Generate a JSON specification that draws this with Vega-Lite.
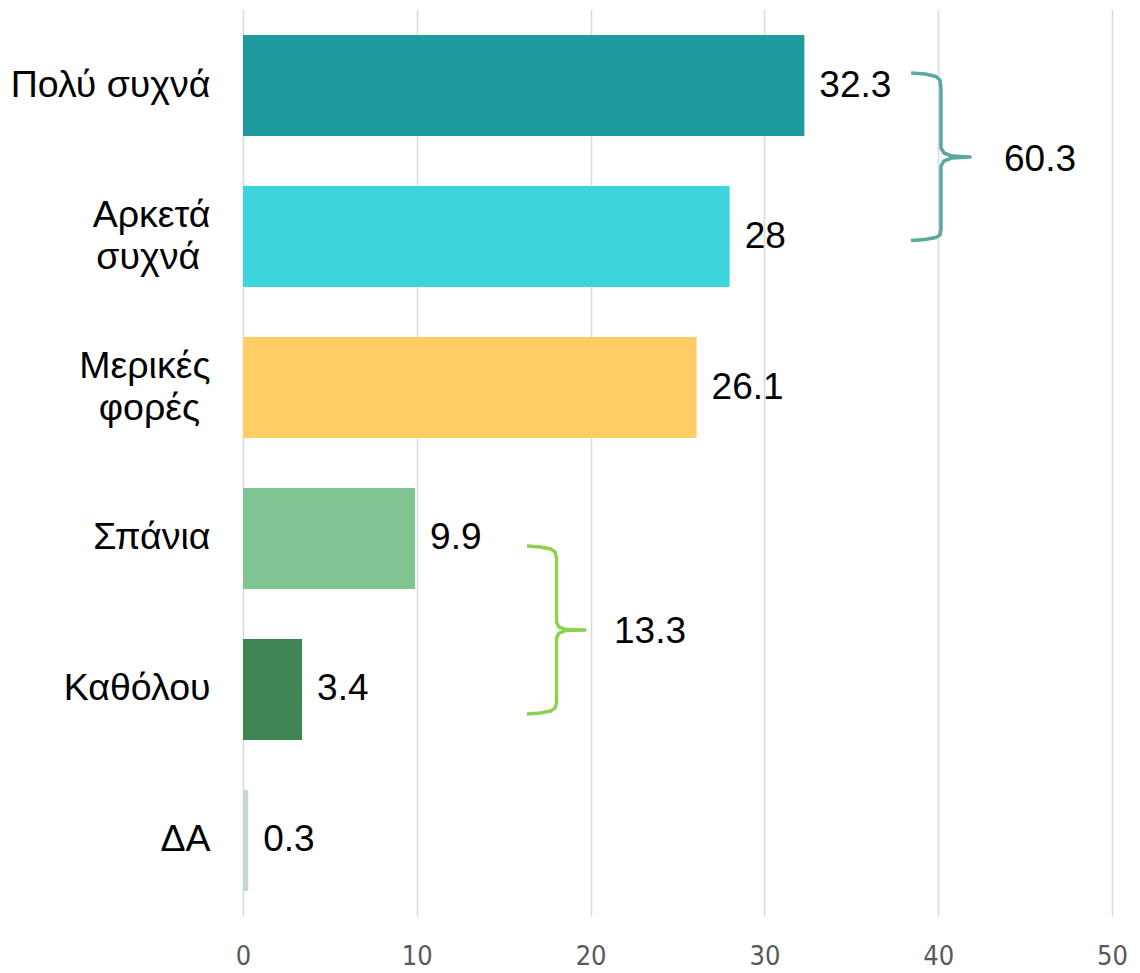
{
  "$schema": "https://vega.github.io/schema/vega-lite/v6.json",
  "autosize": {"type": "none"},
  "padding": {"left": 243, "top": 10, "right": 28, "bottom": 57},
  "width": 869,
  "height": 906,
  "background": "white",
  "config": {"view": {"stroke": null}, "font": "Liberation Sans"},
  "datasets": {
    "bars": [
      {"cat": "Πολύ συχνά", "value": 32.3, "label": "32.3"},
      {"cat": "Αρκετά συχνά", "value": 28, "label": "28"},
      {"cat": "Μερικές φορές", "value": 26.1, "label": "26.1"},
      {"cat": "Σπάνια", "value": 9.9, "label": "9.9"},
      {"cat": "Καθόλου", "value": 3.4, "label": "3.4"},
      {"cat": "ΔΑ", "value": 0.3, "label": "0.3"}
    ],
    "braces": [
      {"g": "high", "i": 0, "x": 38.44, "y": -0.083},
      {"g": "high", "i": 1, "x": 39.24, "y": -0.076},
      {"g": "high", "i": 2, "x": 39.87, "y": -0.060},
      {"g": "high", "i": 3, "x": 40.10, "y": -0.036},
      {"g": "high", "i": 4, "x": 40.16, "y": 0.017},
      {"g": "high", "i": 5, "x": 40.16, "y": 0.414},
      {"g": "high", "i": 6, "x": 40.33, "y": 0.447},
      {"g": "high", "i": 7, "x": 40.79, "y": 0.467},
      {"g": "high", "i": 8, "x": 41.83, "y": 0.474},
      {"g": "high", "i": 9, "x": 40.79, "y": 0.480},
      {"g": "high", "i": 10, "x": 40.33, "y": 0.500},
      {"g": "high", "i": 11, "x": 40.16, "y": 0.533},
      {"g": "high", "i": 12, "x": 40.16, "y": 0.957},
      {"g": "high", "i": 13, "x": 40.10, "y": 0.990},
      {"g": "high", "i": 14, "x": 39.87, "y": 1.007},
      {"g": "high", "i": 15, "x": 39.24, "y": 1.020},
      {"g": "high", "i": 16, "x": 38.44, "y": 1.026},
      {"g": "low", "i": 0, "x": 16.34, "y": 3.050},
      {"g": "low", "i": 1, "x": 17.09, "y": 3.056},
      {"g": "low", "i": 2, "x": 17.72, "y": 3.070},
      {"g": "low", "i": 3, "x": 17.95, "y": 3.089},
      {"g": "low", "i": 4, "x": 18.04, "y": 3.129},
      {"g": "low", "i": 5, "x": 18.04, "y": 3.553},
      {"g": "low", "i": 6, "x": 18.18, "y": 3.586},
      {"g": "low", "i": 7, "x": 18.58, "y": 3.603},
      {"g": "low", "i": 8, "x": 19.68, "y": 3.606},
      {"g": "low", "i": 9, "x": 18.58, "y": 3.609},
      {"g": "low", "i": 10, "x": 18.18, "y": 3.626},
      {"g": "low", "i": 11, "x": 18.04, "y": 3.659},
      {"g": "low", "i": 12, "x": 18.04, "y": 4.089},
      {"g": "low", "i": 13, "x": 17.95, "y": 4.123},
      {"g": "low", "i": 14, "x": 17.72, "y": 4.142},
      {"g": "low", "i": 15, "x": 17.09, "y": 4.156},
      {"g": "low", "i": 16, "x": 16.34, "y": 4.162}
    ],
    "sums": [
      {"g": "high", "x": 45.86, "y": 0.493, "label": "60.3"},
      {"g": "low", "x": 23.42, "y": 3.62, "label": "13.3"}
    ]
  },
  "resolve": {"scale": {"y": "independent"}, "axis": {"y": "independent"}},
  "layer": [
    {
      "data": {"name": "bars"},
      "encoding": {
        "y": {
          "field": "cat", "type": "nominal", "sort": null,
          "scale": {"paddingInner": 0.331, "paddingOuter": 0.166},
          "axis": {
            "title": null, "ticks": false, "domain": false, "grid": false,
            "labelFontSize": 37.5, "labelColor": "#000000", "labelFont": "Liberation Sans",
            "labelPadding": 33, "labelLineHeight": 42, "labelLimit": 400,
            "labelOffset": {"condition": {"test": "datum.value == 'Αρκετά συχνά' || datum.value == 'Μερικές φορές'", "value": -21}, "value": 0},
            "labelExpr": "datum.value == 'Αρκετά συχνά' ? ['Αρκετά', 'συχνά\u00a0\u200b'] : datum.value == 'Μερικές φορές' ? ['Μερικές', 'φορές\u00a0\u200b'] : datum.value"
          }
        },
        "x": {
          "field": "value", "type": "quantitative",
          "scale": {"domain": [0, 50], "nice": false, "zero": true},
          "axis": {
            "title": null, "values": [0, 10, 20, 30, 40, 50], "ticks": false, "domain": false,
            "grid": true, "gridColor": "#d9d9d9", "gridWidth": 1.5,
            "labelFontSize": 27, "labelColor": "#595959", "labelFont": "DejaVu Sans Condensed",
            "labelPadding": 27, "labelFlush": false
          }
        }
      },
      "layer": [
        {
          "mark": {"type": "bar"},
          "encoding": {
            "color": {
              "field": "cat", "type": "nominal", "legend": null,
              "scale": {
                "domain": ["Πολύ συχνά", "Αρκετά συχνά", "Μερικές φορές", "Σπάνια", "Καθόλου", "ΔΑ"],
                "range": ["#1f9ba0", "#3dd4db", "#ffcc66", "#80c492", "#3e8553", "#c5d6cc"]
              }
            }
          }
        },
        {
          "mark": {"type": "text", "align": "left", "baseline": "middle", "dx": 15, "fontSize": 37, "font": "Liberation Sans", "color": "#000000"},
          "encoding": {"text": {"field": "label", "type": "nominal"}}
        }
      ]
    },
    {
      "encoding": {
        "x": {"field": "x", "type": "quantitative", "scale": {"domain": [0, 50], "nice": false, "zero": true}},
        "y": {"field": "y", "type": "quantitative", "scale": {"domain": [-0.5, 5.5], "reverse": true, "nice": false, "zero": false}, "axis": null}
      },
      "layer": [
        {
          "data": {"name": "braces"},
          "transform": [{"filter": "datum.g == 'high'"}],
          "mark": {"type": "line", "color": "#5ba8a1", "strokeWidth": 3.5, "interpolate": "linear", "strokeJoin": "round"},
          "encoding": {"order": {"field": "i", "type": "quantitative"}}
        },
        {
          "data": {"name": "braces"},
          "transform": [{"filter": "datum.g == 'low'"}],
          "mark": {"type": "line", "color": "#8ed14f", "strokeWidth": 3.5, "interpolate": "linear", "strokeJoin": "round"},
          "encoding": {"order": {"field": "i", "type": "quantitative"}}
        },
        {
          "data": {"name": "sums"},
          "mark": {"type": "text", "align": "center", "baseline": "middle", "fontSize": 37, "font": "Liberation Sans", "color": "#000000"},
          "encoding": {"text": {"field": "label", "type": "nominal"}}
        }
      ]
    }
  ]
}
